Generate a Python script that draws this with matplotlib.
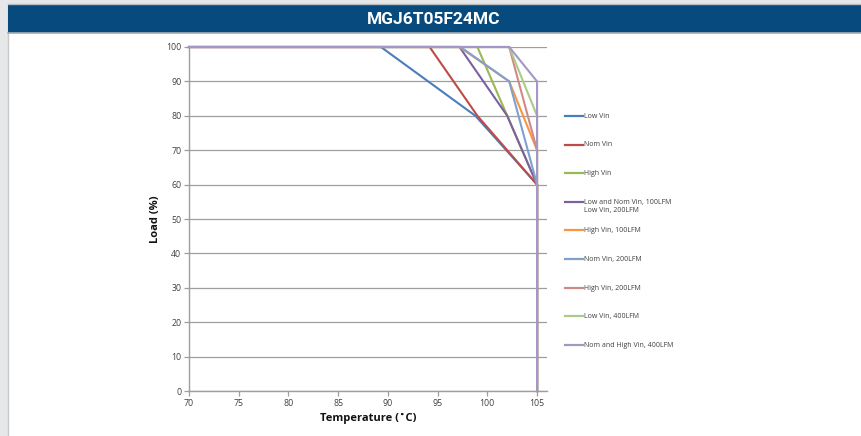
import matplotlib
matplotlib.use("Agg")
import matplotlib.pyplot as plt
from matplotlib.lines import Line2D
from matplotlib.patches import Rectangle

plt.rcParams['font.family'] = ['Open Sans', 'DejaVu Sans']

title = "MGJ6T05F24MC"
x_ticks = [70, 75, 80, 85, 90, 95, 100, 105]
y_ticks = [0, 10, 20, 30, 40, 50, 60, 70, 80, 90, 100]

labels = [
    "Low Vin",
    "Nom Vin",
    "High Vin",
    "Low and Nom Vin, 100LFM\nLow Vin, 200LFM",
    "High Vin, 100LFM",
    "Nom Vin, 200LFM",
    "High Vin, 200LFM",
    "Low Vin, 400LFM",
    "Nom and High Vin, 400LFM",
]
colors = ["#4A7EBB", "#BE4B48", "#98B954", "#7D60A0", "#F79646",
          "#7FA1CF", "#CF8A87", "#ADCB86", "#A497C6"]

low_vin_t = [70, 89.3, 98.8, 105, 105]
low_vin_load = [100, 100, 80, 60, 0]
nom_vin_t = [70, 94.2, 99.0, 105, 105]
nom_vin_load = [100, 100, 80, 60, 0]
high_vin_t = [70, 99.0, 102.0, 105, 105]
high_vin_load = [100, 100, 80, 60, 0]
ln_100_t = [70, 97.2, 102.0, 105, 105]
ln_100_load = [100, 100, 80, 60, 0]
hv_100_t = [70, 97.2, 102.2, 105, 105]
hv_100_load = [100, 100, 90, 70, 0]
nv_200_t = [70, 97.3, 102.2, 105, 105]
nv_200_load = [100, 100, 90, 60, 0]
hv_200_t = [70, 102.2, 105, 105]
hv_200_load = [100, 100, 70, 0]
lv_400_t = [70, 102.2, 105, 105]
lv_400_load = [100, 100, 80, 0]
nh_400_t = [70, 102.2, 105, 105]
nh_400_load = [100, 100, 90, 0]

series = [
    (low_vin_t, low_vin_load), (nom_vin_t, nom_vin_load), (high_vin_t, high_vin_load),
    (ln_100_t, ln_100_load), (hv_100_t, hv_100_load), (nv_200_t, nv_200_load),
    (hv_200_t, hv_200_load), (lv_400_t, lv_400_load), (nh_400_t, nh_400_load),
]

W, H = 861, 436
fig = plt.figure(figsize=(W / 100, H / 100), dpi=100)
fig.patch.set_facecolor("#E6E7E8")

def fx(px):
    return px / W

def fy(py):
    return 1 - py / H

# white panel
fig.add_artist(Rectangle((fx(8), 0), 1, fy(34), transform=fig.transFigure,
                         facecolor="white", edgecolor="none", zorder=0))
fig.add_artist(Line2D([fx(8), fx(8)], [0, fy(4)], transform=fig.transFigure,
                      color="#C8C9CA", lw=1, zorder=1))
# blue band
fig.add_artist(Rectangle((fx(8), fy(33)), 1, fy(5) - fy(33), transform=fig.transFigure,
                         facecolor="#064A7E", edgecolor="none", zorder=1))
fig.add_artist(Line2D([fx(8), 1], [fy(33.5), fy(33.5)], transform=fig.transFigure,
                      color="#A9AFB5", lw=1.2, zorder=1))
fig.add_artist(Line2D([fx(8), 1], [fy(4.5), fy(4.5)], transform=fig.transFigure,
                      color="#B8BCC0", lw=1, zorder=1))
fig.text(fx(434), fy(19.5), title, color="white", fontsize=12.5, fontweight="bold",
         ha="center", va="center", family=["Roboto", "DejaVu Sans"],
         zorder=3)

ax = fig.add_axes([fx(189), fy(391), fx(547) - fx(189), fy(47) - fy(391)])
ax.set_facecolor("white")
ax.set_zorder(2)
for (t, l), c in zip(series, colors):
    ax.plot(t, l, color=c, lw=1.5, solid_joinstyle="miter", clip_on=False)

ax.set_xlim(70, 106)
ax.set_ylim(0, 100)
ax.set_xticks(x_ticks)
ax.set_yticks(y_ticks)
ax.grid(axis="y", color="#9E9E9E", lw=0.9)
ax.set_axisbelow(True)
for s in ["top", "right"]:
    ax.spines[s].set_visible(False)
for s in ["left", "bottom"]:
    ax.spines[s].set_color("#9E9E9E")
    ax.spines[s].set_linewidth(1.0)
ax.tick_params(axis="both", colors="#9E9E9E", labelcolor="#404040",
               labelsize=6.3, length=3.5, width=0.9, pad=2)
ax.set_ylabel("Load (%)", fontsize=8, fontweight="bold", color="#111111", labelpad=4)
ax.set_xlabel("Temperature (˚C)", fontsize=8, fontweight="bold", color="#111111", labelpad=4)

# legend drawn manually
leg_y = [116, 145, 173, 202, 230, 259, 288, 316, 345]
for lab, c, yy in zip(labels, colors, leg_y):
    fig.add_artist(Line2D([fx(565), fx(583)], [fy(yy), fy(yy)], transform=fig.transFigure,
                          color=c, lw=1.6, zorder=3))
    fig.text(fx(584), fy(yy - 3.5), lab, fontsize=5, color="#404040",
             ha="left", va="top", linespacing=1.35, zorder=3)

fig.savefig("out.png", dpi=100)
